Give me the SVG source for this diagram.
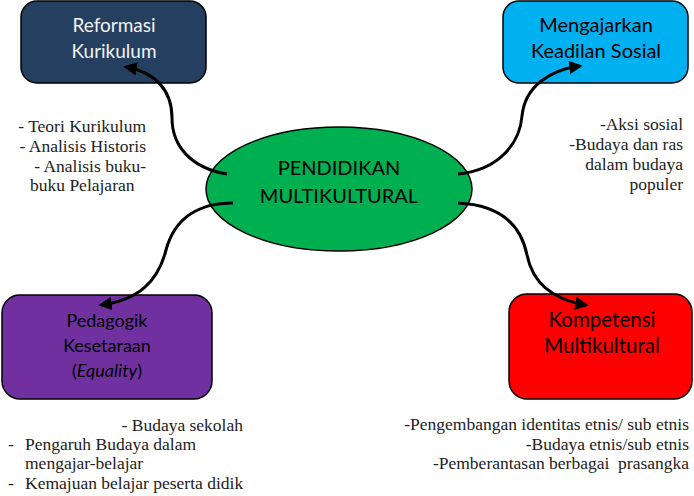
<svg xmlns="http://www.w3.org/2000/svg" width="694" height="496" viewBox="0 0 694 496">
<defs>
<marker id="arr" viewBox="0 0 10 10" refX="8" refY="5" markerWidth="4.5" markerHeight="4.5" orient="auto" markerUnits="strokeWidth">
<path d="M0,0 L10,5 L0,10 z" fill="#000"/>
</marker>
<style>
.box{stroke:#000;stroke-width:1.5}
.lbl{font-family:Lato,"Liberation Sans",sans-serif;font-size:18px;text-anchor:middle}
.note{font-family:"Liberation Serif","Times New Roman",serif;font-size:17.5px;fill:#222}
.con{fill:none;stroke:#000;stroke-width:3;marker-end:url(#arr)}
</style>
</defs>
<rect width="694" height="496" fill="#fff"/>
<g id="reformasi">
<rect class="box" x="21" y="1" width="185" height="82" rx="16" fill="#243F60"/>
<text class="lbl" x="114" y="32" fill="#F2F2F2" style="font-size:19px">Reformasi</text>
<text class="lbl" x="114" y="58" fill="#F2F2F2" style="font-size:19px">Kurikulum</text>
</g>
<g id="keadilan">
<rect class="box" x="503" y="1" width="185" height="82" rx="16" fill="#00B0F0"/>
<text class="lbl" x="596" y="32" style="font-size:20px">Mengajarkan</text>
<text class="lbl" x="596" y="58" style="font-size:20px">Keadilan Sosial</text>
</g>
<g id="pusat">
<ellipse class="box" cx="339" cy="189" rx="133" ry="62" fill="#00B050"/>
<text class="lbl" x="339" y="175" style="font-size:20px">PENDIDIKAN</text>
<text class="lbl" x="339" y="203" style="font-size:20px">MULTIKULTURAL</text>
</g>
<g id="pedagogik">
<rect class="box" x="2" y="295" width="210" height="104" rx="18" fill="#7030A0"/>
<text class="lbl" x="107" y="327">Pedagogik</text>
<text class="lbl" x="107" y="352">Kesetaraan</text>
<text class="lbl" x="107" y="377">(<tspan font-style="italic">Equality</tspan>)</text>
</g>
<g id="kompetensi">
<rect class="box" x="509" y="294" width="183" height="105" rx="18" fill="#FF0000"/>
<text class="lbl" x="602" y="327" style="font-size:20.5px">Kompetensi</text>
<text class="lbl" x="602" y="353" style="font-size:20.5px">Multikultural</text>
</g>
<g id="connectors">
<path class="con" d="M227,174 C190,168 172,145 172,118 C172,90 155,72 126,67"/>
<path class="con" d="M458,174 C500,170 520,142 522,116 C525,86 550,70 580,66"/>
<path class="con" d="M233,203 C200,203 175,217 166,250 C158,282 138,300 101,305"/>
<path class="con" d="M458,203 C500,205 521,225 527,255 C533,285 555,300 586,305"/>
</g>
<g id="notes">
<text class="note" x="146" y="132" text-anchor="end">- Teori Kurikulum</text>
<text class="note" x="146" y="152" text-anchor="end">- Analisis Historis</text>
<text class="note" x="146" y="172" text-anchor="end">- Analisis buku-</text>
<text class="note" x="30" y="191">buku Pelajaran</text>
<text class="note" x="683" y="130" text-anchor="end">-Aksi sosial</text>
<text class="note" x="683" y="150" text-anchor="end">-Budaya dan ras</text>
<text class="note" x="683" y="170" text-anchor="end">dalam budaya</text>
<text class="note" x="683" y="190" text-anchor="end">populer</text>
<text class="note" x="243" y="431" text-anchor="end">- Budaya sekolah</text>
<text class="note" x="8" y="450">-</text><text class="note" x="25" y="450">Pengaruh Budaya dalam</text>
<text class="note" x="25" y="469">mengajar-belajar</text>
<text class="note" x="8" y="489">-</text><text class="note" x="25" y="489">Kemajuan belajar peserta didik</text>
<text class="note" x="689" y="430" text-anchor="end">-Pengembangan identitas etnis/ sub etnis</text>
<text class="note" x="689" y="450" text-anchor="end">-Budaya etnis/sub etnis</text>
<text class="note" x="689" y="469" text-anchor="end">-Pemberantasan berbagai&#160; prasangka</text>
</g>
</svg>
